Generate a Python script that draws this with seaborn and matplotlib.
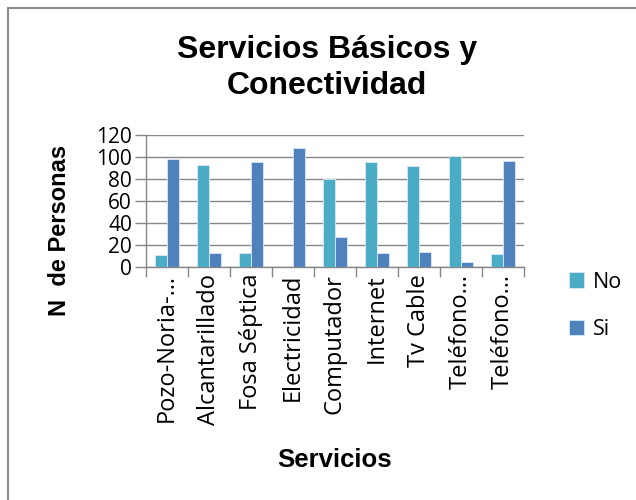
import matplotlib
matplotlib.use("Agg")
import matplotlib.pyplot as plt
from matplotlib.lines import Line2D
import seaborn as sns
import pandas as pd
import numpy as np

categories = ["Pozo-Noria-…", "Alcantarillado", "Fosa Séptica", "Electricidad",
              "Computador", "Internet", "Tv Cable", "Teléfono…", "Teléfono…"]
cat_keys = ["Pozo-Noria", "Alcantarillado", "Fosa Séptica", "Electricidad",
            "Computador", "Internet", "Tv Cable", "Teléfono Fijo", "Teléfono Celular"]
no_values = [11, 93, 13, 0, 80, 95, 92, 101, 12]
si_values = [98, 13, 95, 108, 27, 13, 14, 5, 96]
series = ["No", "Si"]
colors = {"No": "#4BACC6", "Si": "#4F81BD"}
yticks = [0, 20, 40, 60, 80, 100, 120]

df = pd.DataFrame({
    "cat": cat_keys * 2,
    "serie": ["No"] * len(cat_keys) + ["Si"] * len(cat_keys),
    "val": no_values + si_values,
})

sns.set_theme(style="white")
plt.rcParams["font.family"] = ["Open Sans", "DejaVu Sans"]
plt.rcParams["text.color"] = "black"
plt.rcParams["axes.labelcolor"] = "black"
plt.rcParams["xtick.color"] = "black"
plt.rcParams["ytick.color"] = "black"

W, H = 636, 500
fig = plt.figure(figsize=(W / 100, H / 100), dpi=100)
ax = fig.add_axes([146 / W, 1 - 267 / H, (524 - 146) / W, (267 - 135) / H])

sns.barplot(data=df, x="cat", y="val", hue="serie", order=cat_keys,
            hue_order=series, palette=colors, width=0.59, gap=0,
            saturation=1, edgecolor="#dbe8f5", linewidth=0.6, ax=ax,
            errorbar=None, zorder=3)

ax.set_xlim(-0.5, len(cat_keys) - 0.5)
ax.set_ylim(0, 120)
ax.set_yticks(yticks)
ax.set_yticklabels([str(v) for v in yticks], fontsize=15, color="black")
ax.set_xticks(range(len(cat_keys)))
ax.set_xticklabels(categories, rotation=90, fontsize=17, color="black",
                   va="top", ha="center")
ax.set_xticks(np.arange(-0.5, len(cat_keys), 1.0), minor=True)
ax.tick_params(axis="x", which="major", length=0, pad=5)
ax.tick_params(axis="x", which="minor", length=7, width=1, color="#868686",
               direction="out", bottom=True)
ax.tick_params(axis="y", length=8, width=1, color="#868686", pad=2,
               direction="out", left=True, labelcolor="black")
ax.yaxis.grid(True, color="#868686", linewidth=1, zorder=0)
ax.xaxis.grid(False)
for s in ["top", "right"]:
    ax.spines[s].set_visible(False)
for s in ["left", "bottom"]:
    ax.spines[s].set_color("#868686")
    ax.spines[s].set_linewidth(1)
ax.set_xlabel("")
ax.set_ylabel("")

handles, labels = ax.get_legend_handles_labels()
ax.legend_.remove()
fig.legend(handles, labels, loc="center left",
           bbox_to_anchor=(550 / W, 1 - 306 / H), frameon=False,
           fontsize=15.5, handlelength=0.7, handleheight=0.7,
           handletextpad=0.4, labelspacing=1.25, labelcolor="black")

title_font = ["Liberation Sans", "DejaVu Sans"]
fig.text(327 / W, 1 - 58 / H, "Servicios Básicos y", ha="center",
         va="baseline", fontsize=23, fontweight="bold", family=title_font,
         color="black")
fig.text(327 / W, 1 - 94 / H, "Conectividad", ha="center",
         va="baseline", fontsize=23, fontweight="bold", family=title_font,
         color="black")
fig.text(335 / W, 1 - 467 / H, "Servicios", ha="center", va="baseline",
         fontsize=18.5, fontweight="bold", family=title_font, color="black")
fig.text(60 / W, 1 - 230 / H, "N  de Personas", ha="center", va="center",
         rotation=90, fontsize=17, fontweight="bold", family=title_font,
         color="black")

fig.add_artist(Line2D([8 / W, 1], [1 - 8 / H, 1 - 8 / H], color="#8c8c8c",
                      linewidth=1.5, transform=fig.transFigure))
fig.add_artist(Line2D([8 / W, 8 / W], [1 - 8 / H, 0], color="#8c8c8c",
                      linewidth=1.5, transform=fig.transFigure))

fig.savefig("out.png", dpi=100, facecolor="white")
